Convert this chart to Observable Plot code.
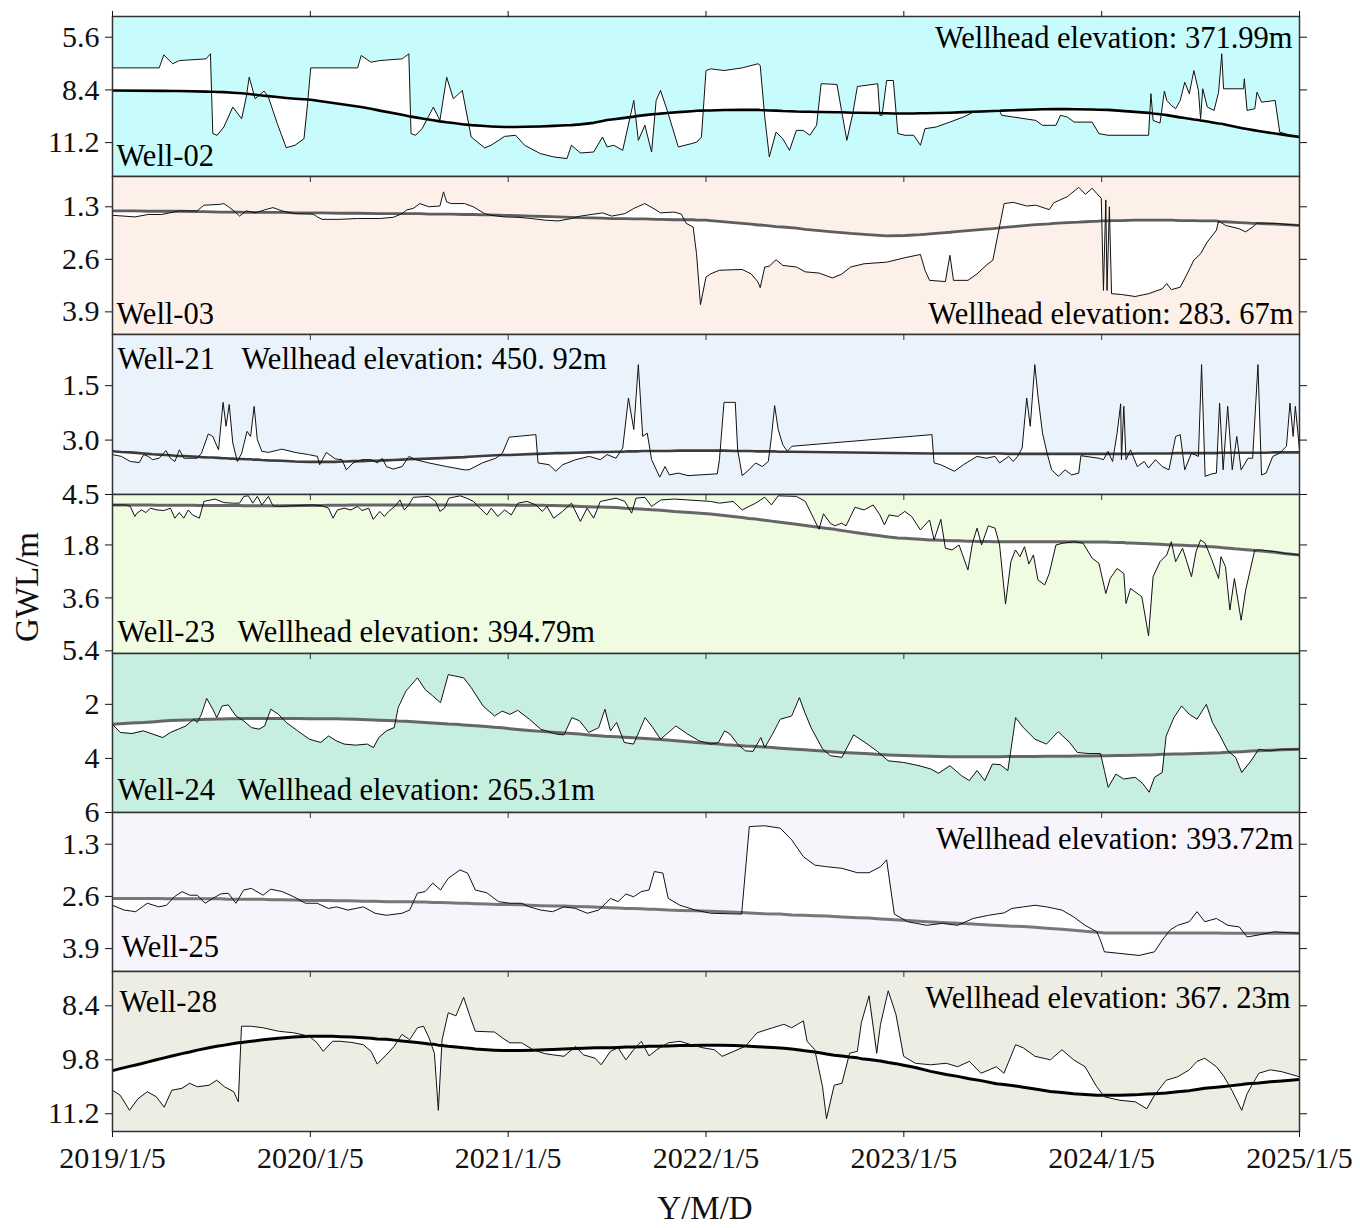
<!DOCTYPE html>
<html><head><meta charset="utf-8">
<script src="https://cdn.jsdelivr.net/npm/d3@7"></script>
<script src="https://cdn.jsdelivr.net/npm/@observablehq/plot@0.6"></script>
<style>
html,body{margin:0;padding:0;background:#fff;overflow:hidden;}
#wrap{position:relative;width:1360px;height:1228px;}
#charts svg{display:block;}
.lab{position:absolute;font-family:"Liberation Serif","Times New Roman",serif;font-size:33px;color:#111;white-space:nowrap;text-align:center;width:200px;line-height:40px;height:40px;}
</style></head><body>
<div id="wrap"><div id="charts"></div>
<div class="lab" id="ylab" style="left:-73px;top:567px;transform:rotate(-90deg);">GWL/m</div>
<div class="lab" id="xlab" style="left:605px;top:1188px;">Y/M/D</div>
</div>
<script>
// ---------- data ----------
const xYears = [2019, 2020, 2021, 2022, 2023, 2024, 2025];
const xTickLabels = ["2019/1/5", "2020/1/5", "2021/1/5", "2022/1/5", "2023/1/5", "2024/1/5", "2025/1/5"];
const wellNames = ["Well-02", "Well-03", "Well-21", "Well-23", "Well-24", "Well-25", "Well-28"];
const elevLabels = ["Wellhead elevation: 371.99m", "Wellhead elevation: 283. 67m", "Wellhead elevation: 450. 92m",
  "Wellhead elevation: 394.79m", "Wellhead elevation: 265.31m", "Wellhead elevation: 393.72m", "Wellhead elevation: 367. 23m"];
const yDomains = [[4.5, 13.0], [0.55, 4.46], [0.09, 4.5], [0.085, 5.49], [0.12, 6.0], [0.51, 4.47], [7.51, 11.66]];
const yTicks = [[5.6, 8.4, 11.2], [1.3, 2.6, 3.9], [1.5, 3.0, 4.5], [1.8, 3.6, 5.4], [2, 4, 6], [1.3, 2.6, 3.9], [8.4, 9.8, 11.2]];
const yTickDigits = [1, 1, 1, 1, 0, 1, 1];

// rows: [time (decimal year), GWL (m), trend (m)]
const well02 = [
[2019.000,7.23,8.43],[2019.236,7.23,8.45],[2019.259,6.54,8.45],[2019.304,7.01,8.46],[2019.338,6.84,8.46],[2019.473,6.75,8.49],[2019.495,6.48,8.50],[2019.507,10.72,8.50],[2019.529,10.81,8.51],[2019.563,10.37,8.52],[2019.608,9.31,8.55],[2019.653,9.93,8.58],[2019.676,8.78,8.60],[2019.691,7.72,8.62],[2019.721,8.87,8.66],[2019.766,8.46,8.71],[2019.788,8.78,8.73],[2019.833,10.19,8.78],[2019.878,11.47,8.83],[2019.923,11.34,8.87],[2019.968,10.99,8.90],[2019.986,9.13,8.91],
[2020.002,7.23,8.92],[2020.239,7.23,9.28],[2020.257,6.57,9.31],[2020.306,6.93,9.40],[2020.351,6.84,9.50],[2020.464,6.75,9.72],[2020.498,6.48,9.80],[2020.509,10.72,9.82],[2020.532,10.81,9.86],[2020.565,10.46,9.92],[2020.622,9.31,10.01],[2020.655,10.02,10.07],[2020.689,7.72,10.12],[2020.723,8.87,10.16],[2020.768,8.43,10.22],[2020.813,10.90,10.27],[2020.881,11.48,10.32],[2020.914,11.34,10.34],[2020.982,10.87,10.37],
[2021.038,10.81,10.37],[2021.083,11.34,10.36],[2021.162,11.78,10.34],[2021.230,11.96,10.31],[2021.297,12.05,10.28],[2021.320,11.34,10.27],[2021.365,11.75,10.23],[2021.432,11.70,10.15],[2021.477,10.90,10.05],[2021.500,11.43,10.00],[2021.534,11.34,9.96],[2021.579,11.61,9.90],[2021.635,8.96,9.82],[2021.658,11.08,9.78],[2021.691,10.28,9.74],[2021.725,11.70,9.70],[2021.748,8.96,9.68],[2021.770,8.43,9.66],[2021.804,9.49,9.63],[2021.860,11.43,9.58],[2021.928,11.25,9.53],[2021.954,11.17,9.51],[2021.977,10.90,9.50],
[2022.000,7.37,9.49],[2022.023,7.28,9.49],[2022.091,7.37,9.47],[2022.183,7.23,9.45],[2022.263,7.01,9.46],[2022.274,7.10,9.47],[2022.297,9.84,9.48],[2022.320,11.96,9.49],[2022.354,10.64,9.50],[2022.388,10.99,9.52],[2022.422,11.61,9.53],[2022.457,10.55,9.55],[2022.491,10.55,9.56],[2022.525,10.81,9.56],[2022.559,10.28,9.57],[2022.582,8.07,9.57],[2022.662,8.11,9.59],[2022.685,9.49,9.59],[2022.712,11.08,9.60],[2022.742,9.66,9.61],[2022.765,8.22,9.61],[2022.868,8.07,9.63],[2022.879,9.75,9.63],[2022.890,9.75,9.64],[2022.913,7.90,9.64],[2022.947,7.90,9.65],[2022.970,10.72,9.65],
[2023.005,10.81,9.65],[2023.050,10.81,9.65],[2023.084,11.34,9.64],[2023.107,10.46,9.64],[2023.164,10.37,9.63],[2023.233,10.11,9.61],[2023.301,9.84,9.58],[2023.347,9.60,9.56],[2023.420,9.55,9.53],[2023.484,9.52,9.51],[2023.495,9.75,9.50],[2023.553,9.84,9.48],[2023.667,10.02,9.44],[2023.701,10.28,9.43],[2023.769,10.28,9.42],[2023.792,9.75,9.42],[2023.826,9.84,9.42],[2023.861,10.11,9.43],[2023.952,10.11,9.44],[2023.986,10.72,9.45],
[2024.032,10.81,9.46],[2024.237,10.81,9.62],[2024.249,8.60,9.63],[2024.260,10.02,9.65],[2024.295,10.16,9.69],[2024.317,8.46,9.72],[2024.329,8.96,9.74],[2024.352,9.22,9.78],[2024.374,9.40,9.82],[2024.397,8.96,9.86],[2024.420,7.99,9.89],[2024.443,8.60,9.93],[2024.466,7.37,9.97],[2024.489,8.43,10.00],[2024.500,9.93,10.02],[2024.511,8.34,10.04],[2024.534,9.31,10.08],[2024.568,9.49,10.14],[2024.591,8.52,10.18],[2024.607,6.48,10.20],[2024.616,8.34,10.22],[2024.717,8.34,10.45],[2024.721,7.81,10.45],[2024.735,9.49,10.48],[2024.774,9.40,10.55],[2024.785,8.52,10.57],[2024.808,9.05,10.61],[2024.877,8.96,10.72],[2024.900,10.64,10.75],[2024.950,10.80,10.83],[2025.000,10.90,10.90]
];
const well03 = [
[2019.000,1.51,1.40],[2019.113,1.55,1.40],[2019.180,1.49,1.41],[2019.248,1.49,1.41],[2019.338,1.40,1.41],[2019.428,1.40,1.42],[2019.462,1.26,1.42],[2019.541,1.24,1.43],[2019.563,1.22,1.43],[2019.586,1.30,1.43],[2019.619,1.42,1.43],[2019.642,1.53,1.43],[2019.676,1.40,1.44],[2019.721,1.45,1.44],[2019.766,1.38,1.44],[2019.811,1.32,1.44],[2019.856,1.40,1.44],[2019.923,1.47,1.45],
[2020.014,1.48,1.45],[2020.036,1.55,1.45],[2020.059,1.61,1.45],[2020.149,1.61,1.46],[2020.239,1.59,1.46],[2020.351,1.59,1.47],[2020.419,1.56,1.47],[2020.464,1.47,1.47],[2020.486,1.38,1.47],[2020.520,1.34,1.47],[2020.554,1.22,1.47],[2020.599,1.30,1.48],[2020.655,1.28,1.48],[2020.673,0.93,1.48],[2020.689,1.18,1.48],[2020.712,1.22,1.48],[2020.779,1.22,1.49],[2020.824,1.30,1.49],[2020.881,1.47,1.50],[2020.914,1.51,1.50],[2020.982,1.55,1.51],
[2021.050,1.56,1.52],[2021.117,1.59,1.53],[2021.185,1.63,1.54],[2021.252,1.65,1.55],[2021.320,1.59,1.56],[2021.365,1.53,1.57],[2021.477,1.45,1.58],[2021.523,1.53,1.59],[2021.590,1.47,1.59],[2021.635,1.34,1.60],[2021.691,1.22,1.60],[2021.748,1.38,1.61],[2021.770,1.45,1.61],[2021.838,1.43,1.62],[2021.875,1.48,1.62],[2021.900,1.71,1.62],[2021.935,1.80,1.62],[2021.952,2.46,1.63],[2021.972,3.72,1.63],
[2022.000,3.04,1.63],[2022.023,2.96,1.64],[2022.068,2.87,1.66],[2022.183,2.85,1.71],[2022.228,2.96,1.73],[2022.263,3.16,1.75],[2022.274,3.30,1.75],[2022.297,2.79,1.76],[2022.320,2.77,1.77],[2022.354,2.61,1.79],[2022.388,2.75,1.80],[2022.457,2.79,1.83],[2022.502,2.91,1.86],[2022.571,2.94,1.89],[2022.639,3.06,1.92],[2022.685,2.97,1.94],[2022.731,2.79,1.96],[2022.799,2.71,1.98],[2022.913,2.67,2.02],
[2023.005,2.56,2.01],[2023.084,2.48,1.99],[2023.107,2.87,1.98],[2023.130,3.12,1.97],[2023.210,3.15,1.94],[2023.233,2.50,1.93],[2023.251,3.12,1.92],[2023.324,3.12,1.89],[2023.370,2.96,1.87],[2023.416,2.75,1.85],[2023.450,2.62,1.84],[2023.473,2.05,1.83],[2023.507,1.22,1.81],[2023.553,1.19,1.79],[2023.621,1.28,1.76],[2023.667,1.26,1.74],[2023.735,1.37,1.72],[2023.758,1.20,1.71],[2023.826,1.05,1.69],[2023.884,0.82,1.68],[2023.918,0.99,1.67],[2023.952,0.84,1.66],[2023.975,0.97,1.66],[2023.998,1.09,1.65],
[2024.009,3.37,1.65],[2024.021,1.13,1.65],[2024.027,3.37,1.65],[2024.039,1.30,1.65],[2024.050,3.45,1.64],[2024.100,3.47,1.64],[2024.169,3.52,1.63],[2024.237,3.45,1.63],[2024.306,3.33,1.63],[2024.329,3.20,1.63],[2024.352,3.35,1.63],[2024.397,3.29,1.64],[2024.432,2.96,1.64],[2024.466,2.62,1.64],[2024.500,2.46,1.65],[2024.534,2.17,1.65],[2024.580,1.88,1.65],[2024.591,1.65,1.66],[2024.626,1.76,1.67],[2024.694,1.84,1.69],[2024.728,1.92,1.70],[2024.763,1.80,1.71],[2024.785,1.70,1.71],[2024.877,1.71,1.73],[2025.000,1.76,1.76]
];
const well21 = [
[2019.000,3.40,3.31],[2019.045,3.45,3.33],[2019.090,3.59,3.34],[2019.135,3.62,3.36],[2019.158,3.40,3.37],[2019.180,3.45,3.38],[2019.203,3.54,3.39],[2019.236,3.50,3.40],[2019.270,3.29,3.41],[2019.293,3.50,3.42],[2019.315,3.59,3.43],[2019.338,3.27,3.44],[2019.360,3.50,3.44],[2019.428,3.50,3.46],[2019.450,3.36,3.47],[2019.484,2.83,3.48],[2019.507,2.90,3.48],[2019.536,3.27,3.49],[2019.559,1.96,3.50],[2019.574,2.62,3.50],[2019.590,2.02,3.51],[2019.608,3.08,3.51],[2019.631,3.59,3.52],[2019.653,3.36,3.52],[2019.680,2.76,3.53],[2019.698,2.90,3.53],[2019.716,2.07,3.54],[2019.732,2.99,3.54],[2019.755,3.31,3.55],[2019.788,3.34,3.56],[2019.856,3.25,3.57],[2019.923,3.34,3.59],[2019.991,3.40,3.60],
[2020.036,3.45,3.60],[2020.047,3.68,3.60],[2020.081,3.34,3.60],[2020.126,3.52,3.60],[2020.160,3.54,3.59],[2020.182,3.82,3.59],[2020.216,3.63,3.58],[2020.261,3.54,3.58],[2020.306,3.54,3.57],[2020.340,3.63,3.57],[2020.363,3.50,3.56],[2020.385,3.73,3.56],[2020.419,3.80,3.55],[2020.464,3.73,3.54],[2020.498,3.45,3.53],[2020.532,3.54,3.52],[2020.599,3.63,3.51],[2020.689,3.73,3.49],[2020.779,3.82,3.47],[2020.802,3.82,3.46],[2020.869,3.63,3.44],[2020.937,3.50,3.42],[2020.971,3.36,3.41],
[2021.005,2.92,3.41],[2021.140,2.85,3.38],[2021.151,3.63,3.38],[2021.207,3.68,3.37],[2021.241,3.86,3.36],[2021.275,3.68,3.36],[2021.342,3.54,3.35],[2021.410,3.45,3.34],[2021.466,3.54,3.33],[2021.500,3.40,3.33],[2021.545,3.50,3.32],[2021.579,3.22,3.32],[2021.608,1.84,3.31],[2021.635,2.71,3.31],[2021.658,0.92,3.31],[2021.680,2.90,3.30],[2021.703,2.81,3.30],[2021.725,3.54,3.30],[2021.766,4.02,3.30],[2021.793,3.73,3.30],[2021.815,3.96,3.30],[2021.860,3.91,3.29],[2021.909,3.98,3.29],
[2022.057,3.93,3.29],[2022.068,3.54,3.29],[2022.091,1.96,3.29],[2022.148,1.96,3.30],[2022.160,3.27,3.30],[2022.183,3.98,3.30],[2022.217,3.82,3.30],[2022.251,3.63,3.31],[2022.285,3.73,3.31],[2022.315,3.59,3.31],[2022.331,2.90,3.31],[2022.347,2.05,3.31],[2022.365,2.71,3.32],[2022.388,3.13,3.32],[2022.411,3.31,3.32],[2022.434,3.17,3.32],
[2023.142,2.85,3.37],[2023.153,3.63,3.37],[2023.187,3.68,3.37],[2023.256,3.86,3.37],[2023.301,3.68,3.37],[2023.370,3.45,3.37],[2023.416,3.50,3.37],[2023.461,3.45,3.37],[2023.484,3.63,3.37],[2023.530,3.45,3.38],[2023.553,3.59,3.38],[2023.575,3.45,3.38],[2023.598,3.22,3.38],[2023.621,1.84,3.38],[2023.639,2.62,3.38],[2023.662,0.92,3.38],[2023.678,1.79,3.38],[2023.701,2.81,3.38],[2023.724,3.36,3.38],[2023.747,3.82,3.38],[2023.781,4.00,3.38],[2023.815,3.82,3.38],[2023.849,3.96,3.38],[2023.884,3.91,3.38],[2023.895,3.43,3.38],[2023.986,3.50,3.38],
[2024.009,3.54,3.38],[2024.032,3.31,3.38],[2024.055,3.59,3.38],[2024.078,2.81,3.38],[2024.096,2.00,3.38],[2024.100,3.54,3.38],[2024.112,2.07,3.38],[2024.123,3.54,3.38],[2024.146,3.27,3.38],[2024.180,3.73,3.37],[2024.215,3.59,3.37],[2024.237,3.77,3.37],[2024.272,3.54,3.37],[2024.306,3.73,3.37],[2024.340,3.82,3.37],[2024.374,2.90,3.36],[2024.397,2.85,3.36],[2024.420,3.82,3.36],[2024.454,3.36,3.36],[2024.489,3.45,3.36],[2024.505,0.92,3.36],[2024.523,4.00,3.36],[2024.557,3.93,3.36],[2024.580,3.91,3.36],[2024.596,1.98,3.35],[2024.614,3.82,3.35],[2024.637,2.07,3.35],[2024.660,3.82,3.35],[2024.683,2.90,3.35],[2024.705,3.82,3.35],[2024.740,3.50,3.35],[2024.763,3.50,3.35],[2024.790,0.92,3.35],[2024.808,3.96,3.35],[2024.831,3.91,3.35],[2024.865,3.45,3.34],[2024.900,3.36,3.34],[2024.934,3.17,3.34],[2024.952,1.98,3.34],[2024.968,2.90,3.34],[2024.979,2.07,3.34],[2025.000,3.27,3.34]
];
const well23 = [
[2019.000,0.44,0.44],[2019.068,0.44,0.44],[2019.090,0.49,0.44],[2019.113,0.83,0.44],[2019.124,0.72,0.44],[2019.146,0.61,0.44],[2019.169,0.70,0.44],[2019.191,0.55,0.44],[2019.225,0.61,0.45],[2019.259,0.63,0.45],[2019.293,0.55,0.45],[2019.315,0.89,0.45],[2019.338,0.70,0.45],[2019.360,0.89,0.45],[2019.383,0.61,0.45],[2019.405,0.78,0.45],[2019.439,0.89,0.46],[2019.462,0.32,0.46],[2019.518,0.24,0.46],[2019.563,0.36,0.46],[2019.608,0.38,0.46],[2019.642,0.38,0.46],[2019.664,0.15,0.47],[2019.687,0.13,0.47],[2019.709,0.38,0.47],[2019.732,0.15,0.47],[2019.755,0.44,0.47],[2019.788,0.15,0.47],[2019.811,0.47,0.47],[2019.845,0.49,0.47],[2019.968,0.45,0.46],
[2020.014,0.44,0.46],[2020.059,0.47,0.46],[2020.092,0.55,0.45],[2020.115,0.89,0.45],[2020.137,0.61,0.45],[2020.171,0.55,0.45],[2020.205,0.61,0.44],[2020.239,0.49,0.44],[2020.261,0.63,0.44],[2020.295,0.55,0.44],[2020.318,0.93,0.44],[2020.351,0.66,0.44],[2020.374,0.83,0.44],[2020.396,0.66,0.44],[2020.430,0.47,0.44],[2020.453,0.27,0.44],[2020.475,0.61,0.44],[2020.498,0.44,0.44],[2020.520,0.18,0.44],[2020.599,0.15,0.44],[2020.633,0.32,0.44],[2020.655,0.66,0.44],[2020.678,0.55,0.44],[2020.700,0.21,0.44],[2020.757,0.13,0.44],[2020.791,0.21,0.44],[2020.824,0.32,0.44],[2020.858,0.55,0.44],[2020.892,0.78,0.44],[2020.914,0.55,0.44],[2020.948,0.83,0.44],[2020.982,0.61,0.44],
[2021.016,0.78,0.45],[2021.050,0.38,0.45],[2021.095,0.32,0.45],[2021.140,0.44,0.45],[2021.173,0.66,0.45],[2021.196,0.49,0.46],[2021.230,0.89,0.46],[2021.275,0.66,0.47],[2021.320,0.38,0.48],[2021.365,1.00,0.49],[2021.399,0.55,0.50],[2021.432,0.89,0.51],[2021.466,0.32,0.51],[2021.545,0.21,0.53],[2021.590,0.32,0.55],[2021.624,0.72,0.56],[2021.646,0.21,0.57],[2021.691,0.18,0.59],[2021.725,0.49,0.60],[2021.772,0.27,0.62],[2021.840,0.24,0.66],[2021.954,0.29,0.71],
[2022.023,0.32,0.75],[2022.068,0.38,0.78],[2022.137,0.32,0.83],[2022.183,0.61,0.87],[2022.217,0.49,0.90],[2022.251,0.38,0.92],[2022.297,0.18,0.96],[2022.331,0.44,0.99],[2022.365,0.13,1.02],[2022.457,0.15,1.10],[2022.502,0.32,1.14],[2022.548,0.95,1.18],[2022.571,1.27,1.20],[2022.594,0.74,1.22],[2022.628,1.06,1.25],[2022.651,1.15,1.27],[2022.685,1.06,1.31],[2022.708,1.15,1.33],[2022.753,0.52,1.38],[2022.799,0.61,1.42],[2022.845,0.44,1.46],[2022.879,0.78,1.49],[2022.902,1.12,1.51],[2022.925,0.78,1.53],[2022.970,0.83,1.56],
[2023.005,0.66,1.57],[2023.039,0.83,1.59],[2023.084,1.29,1.61],[2023.130,0.95,1.63],[2023.153,1.63,1.63],[2023.187,0.93,1.64],[2023.210,1.91,1.65],[2023.244,1.97,1.66],[2023.279,1.80,1.66],[2023.324,2.65,1.67],[2023.347,1.74,1.67],[2023.370,1.23,1.68],[2023.393,1.80,1.68],[2023.427,1.15,1.68],[2023.461,1.23,1.69],[2023.484,1.80,1.69],[2023.514,3.81,1.69],[2023.541,2.37,1.69],[2023.564,1.97,1.69],[2023.587,2.20,1.69],[2023.610,1.86,1.69],[2023.632,2.45,1.69],[2023.655,2.14,1.69],[2023.678,2.99,1.69],[2023.712,3.16,1.69],[2023.735,2.77,1.69],[2023.769,1.80,1.69],[2023.804,1.74,1.69],[2023.861,1.69,1.69],[2023.906,1.74,1.70],[2023.952,2.25,1.70],[2023.986,2.42,1.70],
[2024.021,3.45,1.70],[2024.043,2.94,1.71],[2024.078,2.60,1.72],[2024.112,2.77,1.72],[2024.123,3.79,1.73],[2024.146,3.28,1.73],[2024.203,3.56,1.75],[2024.237,4.89,1.76],[2024.260,2.88,1.77],[2024.295,2.37,1.78],[2024.329,2.14,1.79],[2024.352,1.69,1.80],[2024.374,2.37,1.80],[2024.409,1.91,1.81],[2024.454,2.88,1.83],[2024.477,2.03,1.83],[2024.500,1.63,1.84],[2024.523,1.74,1.85],[2024.557,2.31,1.86],[2024.591,2.94,1.88],[2024.603,2.20,1.89],[2024.626,2.54,1.90],[2024.648,4.01,1.91],[2024.671,2.94,1.93],[2024.705,4.36,1.95],[2024.728,3.33,1.96],[2024.751,2.65,1.97],[2024.774,1.97,1.99],[2024.808,1.97,2.01],[2024.877,2.03,2.05],[2024.922,2.08,2.09],[2025.000,2.14,2.14]
];
const well24 = [
[2019.000,2.74,2.74],[2019.039,3.04,2.72],[2019.098,3.08,2.69],[2019.156,2.98,2.67],[2019.215,3.13,2.64],[2019.254,3.23,2.62],[2019.293,3.04,2.60],[2019.332,2.92,2.59],[2019.371,2.80,2.58],[2019.410,2.55,2.57],[2019.429,2.67,2.56],[2019.449,2.37,2.56],[2019.476,1.78,2.55],[2019.507,2.18,2.55],[2019.527,2.49,2.54],[2019.554,2.06,2.54],[2019.585,2.02,2.53],[2019.624,2.43,2.53],[2019.663,2.61,2.52],[2019.702,2.86,2.52],[2019.741,2.92,2.52],[2019.769,2.80,2.52],[2019.800,2.18,2.52],[2019.839,2.37,2.52],[2019.878,2.67,2.52],[2019.936,2.98,2.52],[2019.995,3.29,2.53],
[2020.053,3.41,2.53],[2020.092,3.17,2.53],[2020.131,3.35,2.53],[2020.171,3.47,2.54],[2020.229,3.51,2.55],[2020.288,3.47,2.57],[2020.319,3.60,2.58],[2020.346,3.23,2.59],[2020.385,2.98,2.60],[2020.424,2.86,2.61],[2020.444,2.12,2.62],[2020.483,1.51,2.63],[2020.541,1.02,2.65],[2020.580,1.45,2.67],[2020.619,1.69,2.69],[2020.658,1.94,2.71],[2020.697,0.90,2.73],[2020.736,0.96,2.74],[2020.775,1.02,2.76],[2020.814,1.39,2.78],[2020.873,2.06,2.81],[2020.931,2.43,2.85],[2020.970,2.25,2.87],
[2021.009,2.37,2.90],[2021.048,2.22,2.93],[2021.107,2.55,2.97],[2021.165,2.92,3.00],[2021.243,3.10,3.04],[2021.282,3.13,3.06],[2021.322,2.49,3.08],[2021.361,2.61,3.10],[2021.407,3.04,3.13],[2021.458,2.86,3.16],[2021.489,2.18,3.18],[2021.517,2.98,3.19],[2021.548,2.67,3.20],[2021.587,3.41,3.22],[2021.634,3.47,3.24],[2021.692,2.49,3.26],[2021.731,2.86,3.28],[2021.770,3.29,3.30],[2021.848,2.80,3.35],[2021.907,3.10,3.38],[2021.965,3.35,3.42],
[2022.024,3.47,3.45],[2022.063,3.41,3.47],[2022.094,2.98,3.49],[2022.121,3.10,3.50],[2022.160,3.47,3.52],[2022.199,3.72,3.54],[2022.238,3.74,3.55],[2022.277,3.23,3.57],[2022.297,3.60,3.58],[2022.336,3.10,3.60],[2022.375,2.55,3.62],[2022.433,2.43,3.65],[2022.472,1.75,3.67],[2022.500,2.31,3.68],[2022.531,2.86,3.70],[2022.590,3.66,3.73],[2022.629,3.90,3.75],[2022.687,3.96,3.78],[2022.746,3.13,3.80],[2022.804,3.41,3.82],[2022.863,3.72,3.85],[2022.921,4.09,3.87],[2022.999,4.15,3.89],
[2023.077,4.27,3.91],[2023.136,4.39,3.92],[2023.175,4.55,3.93],[2023.233,4.27,3.94],[2023.292,4.64,3.94],[2023.331,4.82,3.94],[2023.370,4.45,3.94],[2023.409,4.82,3.94],[2023.448,4.21,3.94],[2023.487,4.23,3.94],[2023.526,4.45,3.93],[2023.565,2.49,3.93],[2023.604,2.86,3.93],[2023.663,3.29,3.93],[2023.721,3.47,3.92],[2023.780,3.01,3.92],[2023.838,3.41,3.92],[2023.877,3.78,3.91],[2023.936,3.82,3.91],[2023.994,3.82,3.90],
[2024.014,4.45,3.90],[2024.033,5.07,3.90],[2024.072,4.58,3.89],[2024.111,4.76,3.89],[2024.170,4.70,3.88],[2024.209,4.94,3.87],[2024.240,5.25,3.87],[2024.267,4.70,3.86],[2024.306,4.52,3.85],[2024.326,3.17,3.85],[2024.365,2.49,3.84],[2024.404,2.06,3.84],[2024.443,2.37,3.83],[2024.482,2.55,3.82],[2024.529,2.00,3.81],[2024.560,2.67,3.80],[2024.599,3.17,3.79],[2024.638,3.72,3.77],[2024.677,3.96,3.76],[2024.708,4.52,3.75],[2024.755,4.09,3.73],[2024.794,3.66,3.72],[2024.852,3.72,3.70],[2024.911,3.66,3.68],[2025.000,3.66,3.66]
];
const well25 = [
[2019.000,2.82,2.65],[2019.059,2.94,2.65],[2019.117,2.98,2.65],[2019.176,2.77,2.65],[2019.234,2.86,2.65],[2019.273,2.82,2.66],[2019.312,2.61,2.66],[2019.351,2.48,2.66],[2019.390,2.57,2.66],[2019.429,2.57,2.66],[2019.468,2.77,2.66],[2019.507,2.65,2.66],[2019.546,2.54,2.66],[2019.585,2.52,2.67],[2019.624,2.77,2.67],[2019.663,2.44,2.67],[2019.702,2.40,2.67],[2019.761,2.57,2.67],[2019.800,2.42,2.68],[2019.858,2.48,2.68],[2019.917,2.61,2.69],[2019.975,2.77,2.70],
[2020.034,2.77,2.70],[2020.092,2.90,2.70],[2020.131,2.86,2.71],[2020.190,2.94,2.71],[2020.268,2.86,2.72],[2020.327,3.02,2.72],[2020.385,3.07,2.73],[2020.463,3.02,2.73],[2020.502,2.94,2.73],[2020.541,2.52,2.74],[2020.580,2.48,2.74],[2020.619,2.27,2.75],[2020.658,2.44,2.75],[2020.697,2.15,2.76],[2020.756,1.94,2.77],[2020.795,2.02,2.77],[2020.834,2.44,2.78],[2020.892,2.51,2.79],[2020.951,2.73,2.80],
[2021.009,2.77,2.80],[2021.068,2.77,2.81],[2021.107,2.86,2.82],[2021.165,2.94,2.83],[2021.224,2.98,2.84],[2021.282,2.86,2.84],[2021.341,2.90,2.85],[2021.400,3.02,2.86],[2021.458,2.94,2.87],[2021.517,2.65,2.88],[2021.556,2.73,2.89],[2021.595,2.54,2.90],[2021.634,2.61,2.90],[2021.673,2.48,2.91],[2021.712,2.44,2.92],[2021.739,1.98,2.92],[2021.782,2.02,2.93],[2021.809,2.65,2.94],[2021.868,2.82,2.95],[2021.946,2.94,2.96],
[2022.024,3.02,2.97],[2022.180,3.04,3.00],[2022.219,0.86,3.01],[2022.297,0.84,3.03],[2022.375,0.90,3.04],[2022.433,1.19,3.06],[2022.492,1.61,3.07],[2022.550,1.82,3.08],[2022.609,1.86,3.09],[2022.687,1.90,3.11],[2022.765,2.01,3.13],[2022.824,2.01,3.14],[2022.882,1.86,3.16],[2022.913,1.69,3.17],[2022.952,3.04,3.18],
[2023.019,3.23,3.20],[2023.116,3.32,3.23],[2023.194,3.27,3.25],[2023.272,3.32,3.27],[2023.350,3.15,3.29],[2023.428,3.07,3.31],[2023.507,3.01,3.33],[2023.546,2.90,3.34],[2023.604,2.86,3.35],[2023.663,2.82,3.37],[2023.721,2.86,3.39],[2023.799,2.94,3.42],[2023.858,3.11,3.44],[2023.916,3.32,3.47],[2023.975,3.48,3.49],[2023.994,3.69,3.50],
[2024.014,3.98,3.51],[2024.092,4.02,3.51],[2024.189,4.07,3.51],[2024.267,3.98,3.51],[2024.306,3.69,3.51],[2024.345,3.44,3.51],[2024.384,3.32,3.51],[2024.443,3.23,3.51],[2024.482,2.98,3.51],[2024.521,3.23,3.51],[2024.580,3.15,3.51],[2024.638,3.32,3.52],[2024.696,3.36,3.52],[2024.735,3.61,3.52],[2024.794,3.56,3.52],[2024.872,3.48,3.52],[2025.000,3.52,3.52]
];
const well28 = [
[2019.000,10.59,10.08],[2019.039,10.72,10.03],[2019.086,11.11,9.97],[2019.129,10.81,9.92],[2019.176,10.63,9.86],[2019.222,10.76,9.80],[2019.261,11.03,9.75],[2019.300,10.59,9.70],[2019.351,10.54,9.64],[2019.390,10.41,9.60],[2019.429,10.50,9.55],[2019.488,10.46,9.49],[2019.527,10.33,9.45],[2019.566,10.50,9.42],[2019.613,10.63,9.38],[2019.636,10.89,9.36],[2019.652,8.93,9.35],[2019.702,8.93,9.32],[2019.761,8.97,9.28],[2019.839,9.06,9.24],[2019.917,9.10,9.21],[2019.995,9.19,9.19],
[2020.034,9.36,9.19],[2020.065,9.58,9.19],[2020.112,9.32,9.19],[2020.151,9.32,9.20],[2020.210,9.35,9.21],[2020.268,9.41,9.23],[2020.307,9.58,9.24],[2020.338,9.91,9.26],[2020.385,9.67,9.27],[2020.424,9.45,9.29],[2020.463,9.14,9.31],[2020.502,9.28,9.33],[2020.541,8.97,9.35],[2020.572,8.93,9.37],[2020.600,9.23,9.39],[2020.627,9.63,9.40],[2020.647,11.11,9.42],[2020.666,9.28,9.43],[2020.697,8.58,9.45],[2020.736,8.66,9.47],[2020.775,8.18,9.49],[2020.806,8.66,9.50],[2020.834,9.06,9.52],[2020.931,9.08,9.55],[2020.970,9.23,9.56],
[2021.009,9.36,9.56],[2021.068,9.36,9.56],[2021.126,9.54,9.55],[2021.185,9.64,9.54],[2021.224,9.67,9.53],[2021.282,9.71,9.52],[2021.341,9.45,9.51],[2021.380,9.67,9.50],[2021.439,9.76,9.49],[2021.470,9.93,9.49],[2021.517,9.58,9.49],[2021.556,9.49,9.48],[2021.595,9.80,9.47],[2021.634,9.54,9.47],[2021.673,9.32,9.46],[2021.712,9.70,9.45],[2021.751,9.54,9.45],[2021.809,9.36,9.44],[2021.868,9.32,9.43],[2021.926,9.41,9.43],[2021.985,9.49,9.42],
[2022.043,9.54,9.42],[2022.082,9.71,9.42],[2022.141,9.58,9.43],[2022.199,9.45,9.44],[2022.258,9.10,9.46],[2022.336,8.97,9.48],[2022.394,8.88,9.50],[2022.433,8.97,9.52],[2022.492,8.79,9.56],[2022.511,9.32,9.57],[2022.550,9.54,9.60],[2022.589,10.50,9.63],[2022.609,11.33,9.65],[2022.648,10.46,9.68],[2022.687,10.41,9.70],[2022.726,9.63,9.73],[2022.765,9.58,9.75],[2022.785,8.84,9.77],[2022.824,8.14,9.79],[2022.863,9.63,9.82],[2022.882,8.88,9.83],[2022.921,8.01,9.87],[2022.960,8.62,9.90],[2022.999,9.71,9.94],
[2023.058,9.89,10.00],[2023.136,9.93,10.10],[2023.214,9.89,10.18],[2023.272,9.98,10.23],[2023.331,9.84,10.29],[2023.390,10.15,10.34],[2023.468,9.98,10.42],[2023.506,10.15,10.44],[2023.565,9.41,10.48],[2023.604,9.49,10.51],[2023.663,9.71,10.56],[2023.741,9.80,10.62],[2023.799,9.54,10.65],[2023.858,9.80,10.68],[2023.916,9.98,10.70],[2023.975,10.50,10.72],
[2024.014,10.76,10.72],[2024.092,10.85,10.72],[2024.170,10.89,10.71],[2024.228,11.07,10.69],[2024.267,10.72,10.68],[2024.326,10.33,10.66],[2024.384,10.24,10.63],[2024.443,10.06,10.60],[2024.482,9.84,10.57],[2024.521,9.76,10.54],[2024.580,9.98,10.51],[2024.619,10.24,10.49],[2024.658,10.59,10.47],[2024.708,11.11,10.44],[2024.735,10.68,10.42],[2024.794,10.15,10.40],[2024.852,10.06,10.37],[2024.911,10.11,10.35],[2025.000,10.24,10.31]
];

// ---------- layout / styles ----------
const series = [well02, well03, well21, well23, well24, well25, well28];
const bgColors = ["#c8fcfc", "#fdf0e8", "#eaf3fc", "#f0fce2", "#c6efe0", "#f8f4fc", "#eeede4"];
const trendStyle = [["#000", 2.6], ["#5e5e5e", 2.8], ["#3c3c3c", 2.6], ["#666", 3], ["#666", 3], ["#777", 3], ["#000", 3]];
const heights = [160, 158, 160, 159, 159, 159, 160];
// [which text (0 = well name, 1 = elevation), frameAnchor, dx, dy(baseline)]
const labelLayout = [
  [[0, "bottom-left", 4, -11], [1, "top-right", -7, 31]],
  [[0, "bottom-left", 4, -11], [1, "bottom-right", -6, -11]],
  [[0, "top-left", 5, 34], [1, "top-left", 129, 34]],
  [[0, "bottom-left", 5, -12], [1, "bottom-left", 125, -12]],
  [[0, "bottom-left", 5, -13], [1, "bottom-left", 125, -13]],
  [[1, "top-right", -6, 36], [0, "bottom-left", 9, -15]],
  [[0, "top-left", 7, 40], [1, "top-right", -9, 36]]
];

const container = document.getElementById("charts");
const font = '"Liberation Serif","Times New Roman",serif';
series.forEach((rows, i) => {
  const first = i === 0, last = i === series.length - 1;
  const mt = first ? 16 : 0, mb = last ? 97 : 0;
  const H = heights[i];
  const fmt = d3.format(`.${yTickDigits[i]}f`);
  const marks = [
    Plot.frame({fill: bgColors[i], stroke: null}),
    Plot.areaY(rows, {x: d => d[0], y1: d => d[1], y2: d => d[2], fill: "white", clip: true}),
    Plot.line(rows, {x: d => d[0], y: d => d[2], stroke: trendStyle[i][0], strokeWidth: trendStyle[i][1], clip: true}),
    Plot.line(rows, {x: d => d[0], y: d => d[1], stroke: "#111", strokeWidth: 1, clip: true}),
    Plot.frame({stroke: "#333", strokeWidth: 1.5}),
    Plot.axisY({anchor: "left", ticks: yTicks[i], tickFormat: fmt, tickSize: 7, tickPadding: 6, label: null}),
    Plot.axisY({anchor: "right", ticks: yTicks[i], tickFormat: () => "", tickSize: 7, label: null})
  ];
  if (first) marks.push(Plot.axisX({anchor: "top", ticks: xYears, tickSize: 6, tickFormat: () => "", label: null}));
  else marks.push(Plot.ruleX(xYears, {x: d => d, insetBottom: H - 6, stroke: "#333", strokeWidth: 1}));
  if (last) marks.push(Plot.axisX({anchor: "bottom", ticks: xYears, tickSize: 6, tickPadding: 9,
    tickFormat: d => xTickLabels[xYears.indexOf(d)], label: null}));
  labelLayout[i].forEach(([k, fa, dx, dy]) => {
    const txt = k === 0 ? wellNames[i] : elevLabels[i];
    marks.push(Plot.text([txt], {text: d => d, frameAnchor: fa, dx, dy, lineAnchor: "bottom",
      textAnchor: fa.endsWith("right") ? "end" : "start", fontSize: 30.5, fill: "#000"}));
  });
  const svg = Plot.plot({
    width: 1360, height: H + mt + mb,
    marginLeft: 112, marginRight: 61, marginTop: mt, marginBottom: mb,
    x: {domain: [2019, 2025], axis: null},
    y: {domain: yDomains[i], reverse: true, axis: null},
    style: {fontFamily: font, fontSize: "30px", color: "#111", background: "transparent", overflow: "visible"},
    marks
  });
  container.appendChild(svg);
});
</script>
</body></html>
